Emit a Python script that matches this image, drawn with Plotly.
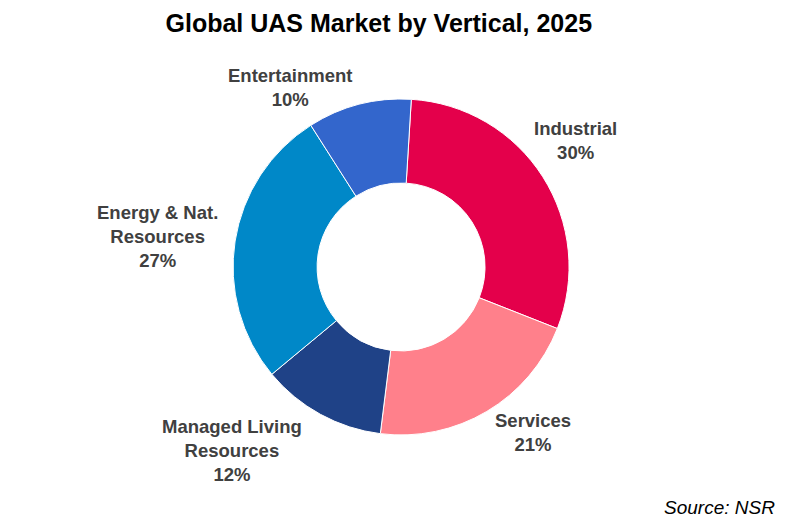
import plotly.graph_objects as go

verticals = ["Industrial", "Services", "Managed Living<br>Resources", "Energy & Nat.<br>Resources", "Entertainment"]
shares = [30, 21, 12, 27, 10]
colors = ["#E4004B", "#FF808B", "#1F4287", "#0088C8", "#3366CC"]

# label anchor spots (paper coords), same order as verticals
label_xy = [(0.715, 0.745), (0.661, 0.185), (0.282, 0.150), (0.188, 0.561), (0.355, 0.847)]

FONT = "Liberation Sans, Arial, sans-serif"

fig = go.Figure()
fig.add_trace(go.Pie(
    labels=verticals,
    values=shares,
    hole=0.5,
    sort=False,
    direction="clockwise",
    rotation=3.5,
    marker=dict(colors=colors, line=dict(color="white", width=1)),
    textinfo="none",
    hoverinfo="label+percent",
    domain=dict(x=[0.2835, 0.7066], y=[0.1804, 0.8254]),
    showlegend=False,
))

annotations = []
for name, val, (ax, ay) in zip(verticals, shares, label_xy):
    annotations.append(dict(text=f"<b>{name}<br>{val}%</b>", x=ax, y=ay, xref="paper", yref="paper",
                            xanchor="center", yanchor="middle", showarrow=False,
                            font=dict(family=FONT, size=18.5, color="#404040")))
annotations.append(dict(text="<i>Source: NSR</i>", x=0.969, y=0.018, xref="paper", yref="paper",
                        xanchor="right", yanchor="bottom", showarrow=False,
                        font=dict(family=FONT, size=19, color="black")))

fig.update_layout(
    width=794, height=521,
    margin=dict(l=0, r=0, t=0, b=0),
    paper_bgcolor="white",
    title=dict(text="<b>Global UAS Market by Vertical, 2025</b>", x=0.467, y=0.988,
               xanchor="center", yanchor="top",
               font=dict(family=FONT, size=25, color="black")),
    font=dict(family=FONT),
    annotations=annotations,
)

fig.write_html("out.html")
